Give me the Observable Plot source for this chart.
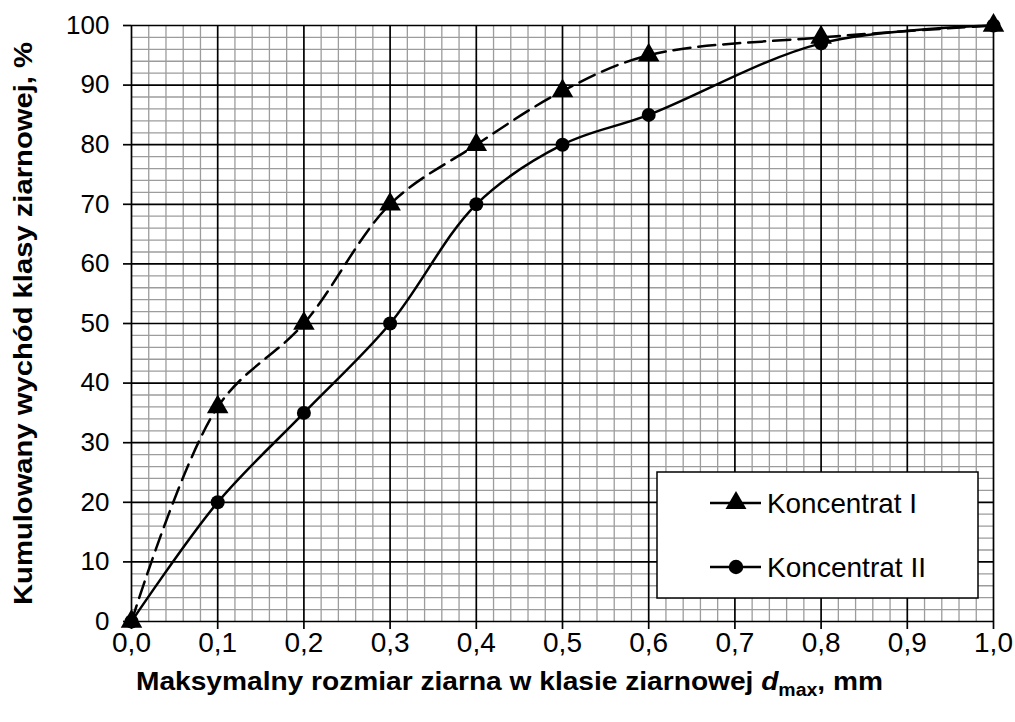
<!DOCTYPE html>
<html><head><meta charset="utf-8">
<script src="https://cdn.jsdelivr.net/npm/d3@7"></script>
<script src="https://cdn.jsdelivr.net/npm/@observablehq/plot@0.6"></script>
<style>body{margin:0;background:#fff;font-family:"Liberation Sans",Arial,sans-serif}</style>
</head><body><div id="chart"></div>
<script>
const xValues = [0, 0.1, 0.2, 0.3, 0.4, 0.5, 0.6, 0.8, 1.0];
const koncentratI = [0, 36, 50, 70, 80, 89, 95, 98, 100];
const koncentratII = [0, 20, 35, 50, 70, 80, 85, 97, 100];
const seriesNames = ["Koncentrat I", "Koncentrat II"];
const xTicks = [0, 0.1, 0.2, 0.3, 0.4, 0.5, 0.6, 0.7, 0.8, 0.9, 1.0];
const yTicks = [0, 10, 20, 30, 40, 50, 60, 70, 80, 90, 100];
const yTitle = "Kumulowany wychód klasy ziarnowej, %";
const xTitleMain = "Maksymalny rozmiar ziarna w klasie ziarnowej ";
const xTitleVar = "d";
const xTitleSub = "max";
const xTitleEnd = ", mm";

const dataI = xValues.map((x, i) => ({x, y: koncentratI[i]}));
const dataII = xValues.map((x, i) => ({x, y: koncentratII[i]}));

const xMinor = d3.range(0, 51).map(i => i / 50).filter((v, i) => i % 5 !== 0);
const yMinor = d3.range(0, 51).map(i => i * 2).filter(v => v % 10 !== 0);
const fmt = d => d.toFixed(1).replace(".", ",");

const W = 1015, H = 722;
const mL = 131, mR = 22, mT = 25, mB = 101;

const plot = Plot.plot({
  width: W, height: H,
  marginLeft: mL, marginRight: mR, marginTop: mT, marginBottom: mB,
  style: {fontFamily: '"Liberation Sans", Arial, sans-serif', fontSize: "25px", color: "#000", background: "#fff", overflow: "visible"},
  x: {domain: [0, 1]},
  y: {domain: [0, 100]},
  marks: [
    Plot.ruleX(xMinor, {stroke: "#9c9c9c", strokeWidth: 1.3}),
    Plot.ruleY(yMinor, {stroke: "#9c9c9c", strokeWidth: 1.3}),
    Plot.ruleX(xTicks, {stroke: "#000", strokeWidth: 1.7}),
    Plot.ruleY(yTicks, {stroke: "#000", strokeWidth: 1.7}),
    Plot.axisX({ticks: xTicks, tickFormat: fmt, tickSize: 8, tickPadding: 3, strokeWidth: 1.7, label: null}),
    Plot.axisY({ticks: yTicks, tickFormat: d => String(d), tickSize: 8, tickPadding: 14, strokeWidth: 1.7, label: null}),
    Plot.line(dataI, {x: "x", y: "y", curve: "catmull-rom", stroke: "#000", strokeWidth: 2.5, strokeDasharray: "17,8"}),
    Plot.line(dataII, {x: "x", y: "y", curve: "catmull-rom", stroke: "#000", strokeWidth: 2.5}),
    Plot.dot(dataI, {x: "x", y: "y", symbol: "triangle", r: 8, fill: "#000", stroke: "none"}),
    Plot.dot(dataII, {x: "x", y: "y", symbol: "circle", r: 7, fill: "#000", stroke: "none"})
  ]
});
document.getElementById("chart").appendChild(plot);

// force tick label font sizes on each text element
plot.querySelectorAll("text").forEach(t => {
  const lbl = (t.parentNode.getAttribute("aria-label") || "");
  const isX = lbl.startsWith("x") || /,/.test(t.textContent);
  t.style.fontSize = isX ? "28px" : "26px";
  t.style.fontFamily = '"Liberation Sans", Arial, sans-serif';
});

const svg = d3.select(plot);

// Axis titles
svg.append("text")
  .attr("transform", `translate(23,${42 + 563 / 2}) rotate(-90)`)
  .attr("text-anchor", "middle").attr("dominant-baseline", "central")
  .attr("font-weight", "bold").style("font-size", "26px").attr("fill", "#000")
  .attr("textLength", 563).attr("lengthAdjust", "spacingAndGlyphs")
  .text(yTitle);
const xt = svg.append("text")
  .attr("x", 136).attr("y", 690)
  .attr("text-anchor", "start")
  .attr("font-weight", "bold").style("font-size", "26px").attr("fill", "#000")
  .attr("textLength", 747).attr("lengthAdjust", "spacingAndGlyphs");
xt.append("tspan").text(xTitleMain);
xt.append("tspan").attr("font-style", "italic").text(xTitleVar);
xt.append("tspan").style("font-size", "18px").attr("dy", 6).text(xTitleSub);
xt.append("tspan").attr("dy", -6).text(xTitleEnd);

// Legend
const lg = svg.append("g");
lg.append("rect").attr("x", 657).attr("y", 472).attr("width", 321).attr("height", 126)
  .attr("fill", "#fff").attr("stroke", "#000").attr("stroke-width", 1.5);
const entries = [{name: seriesNames[0], sym: d3.symbolTriangle, size: 190, y: 503, len: 150}, {name: seriesNames[1], sym: d3.symbolCircle, size: 165, y: 567, len: 159}];
for (const e of entries) {
  lg.append("line").attr("x1", 710).attr("x2", 761).attr("y1", e.y).attr("y2", e.y).attr("stroke", "#000").attr("stroke-width", 2.5);
  lg.append("path").attr("transform", `translate(736,${e.y})`).attr("d", d3.symbol(e.sym, e.size)()).attr("fill", "#000");
  lg.append("text").attr("x", 767).attr("y", e.y).attr("text-anchor", "start").attr("dominant-baseline", "central")
    .style("font-size", "28px").attr("fill", "#000")
    .attr("textLength", e.len).attr("lengthAdjust", "spacingAndGlyphs").text(e.name);
}
</script></body></html>
